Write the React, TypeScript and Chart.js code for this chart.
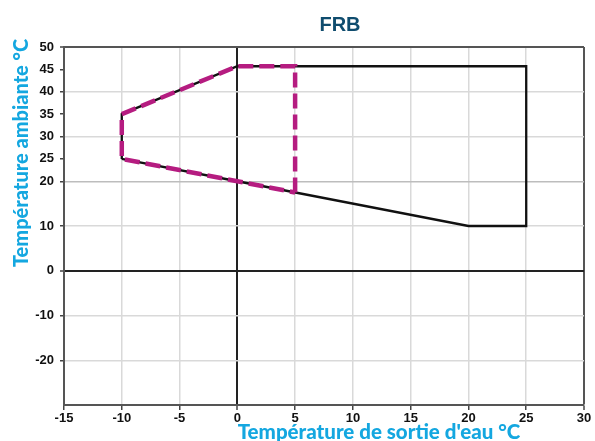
import React, { useEffect, useRef } from "react";
import { Chart, registerables } from "chart.js";

Chart.register(...registerables);

const chartTitle = "FRB";
const xAxisTitle = "Température de sortie d'eau °C";
const yAxisTitle = "Température ambiante °C";

const xMin = -15;
const xMax = 30;
const xStep = 5;
const yMin = -30;
const yMax = 50;
const yTickValues = [50, 45, 40, 35, 30, 25, 20, 10, 0, -10, -20];
const yNoGrid = [45, 35, 25];

// Outer operating envelope (solid black)
const envelopeX = [-10, -10, 0, 25, 25, 20, 0, -10];
const envelopeY = [25, 35, 45.7, 45.7, 10, 10, 20, 25];

// Inner limited area (dashed magenta)
const limitX = [5, 5, 0, -10, -10, 0, 5];
const limitY = [17.5, 45.7, 45.7, 35, 25, 20, 17.5];

const toPoints = (xs: number[], ys: number[]) => xs.map((x, i) => ({ x, y: ys[i] }));

const titlesPlugin = {
  id: "customTitles",
  afterDraw(chart: any) {
    const { ctx } = chart;
    ctx.save();
    // Main title
    ctx.fillStyle = "#0f4c6e";
    ctx.font = "bold 20px 'Liberation Sans', Arial, sans-serif";
    ctx.textAlign = "center";
    ctx.textBaseline = "middle";
    ctx.fillText(chartTitle, 340, 25);
    // X title
    ctx.fillStyle = "#14a7e0";
    ctx.font = "900 20.5px Lato, 'Open Sans', sans-serif";
    ctx.textBaseline = "alphabetic";
    ctx.fillText(xAxisTitle, 379, 439);
    // Y title
    ctx.translate(22, 153);
    ctx.rotate(-Math.PI / 2);
    ctx.textBaseline = "middle";
    ctx.font = "900 20px Lato, 'Open Sans', sans-serif";
    ctx.fillText(yAxisTitle, 0, 0);
    ctx.restore();
  },
};

export default function App() {
  const canvasRef = useRef<HTMLCanvasElement | null>(null);

  useEffect(() => {
    if (!canvasRef.current) return;
    const tickFont = { family: "'Liberation Sans', Arial, sans-serif", size: 13, weight: "bold" as const };
    const chart = new Chart(canvasRef.current, {
      type: "scatter",
      data: {
        datasets: [
          {
            label: "limit",
            data: toPoints(limitX, limitY),
            showLine: true,
            borderColor: "#b51c80",
            borderWidth: 4.5,
            borderDash: [15, 6],
            pointRadius: 0,
            fill: false,
            tension: 0,
          },
          {
            label: "envelope",
            data: toPoints(envelopeX, envelopeY),
            showLine: true,
            borderColor: "#111111",
            borderWidth: 2.3,
            pointRadius: 0,
            fill: false,
            tension: 0,
          },
        ],
      },
      options: {
        animation: false,
        responsive: false,
        maintainAspectRatio: false,
        layout: { padding: { top: 47, right: 11, left: 0, bottom: 0 } },
        plugins: {
          legend: { display: false },
          title: { display: false },
          tooltip: { enabled: false },
        },
        scales: {
          x: {
            type: "linear",
            min: xMin,
            max: xMax,
            afterFit: (s: any) => {
              s.height = 36;
            },
            ticks: {
              stepSize: xStep,
              autoSkip: false,
              maxRotation: 0,
              color: "#111",
              font: tickFont,
              padding: 1,
            },
            border: { display: true, color: "#555", width: 2 },
            grid: {
              drawTicks: true,
              tickLength: 5,
              tickColor: "#444",
              tickWidth: 1.5,
              color: (c: any) => {
                const v = c.tick ? c.tick.value : null;
                if (v === xMin) return "rgba(0,0,0,0)";
                if (v === 0) return "#222";
                if (v === xMax) return "#555";
                return "#d9d9d9";
              },
              lineWidth: (c: any) => {
                const v = c.tick ? c.tick.value : null;
                if (v === 0 || v === xMax) return 2;
                return 1.5;
              },
            },
          },
          y: {
            type: "linear",
            min: yMin,
            max: yMax,
            afterFit: (s: any) => {
              s.width = 64;
            },
            afterBuildTicks: (s: any) => {
              s.ticks = yTickValues.map((v) => ({ value: v }));
            },
            ticks: {
              autoSkip: false,
              color: "#111",
              font: tickFont,
              padding: 6,
              callback: (v: any) => String(v),
            },
            border: { display: true, color: "#555", width: 2 },
            grid: {
              drawTicks: true,
              tickLength: 4,
              tickColor: "#444",
              tickWidth: 1.5,
              color: (c: any) => {
                const v = c.tick ? c.tick.value : null;
                if (v === yMax) return "#555";
                if (v === 0) return "#222";
                if (v === 20) return "#bdbdbd";
                if (yNoGrid.includes(v)) return "rgba(0,0,0,0)";
                return "#d9d9d9";
              },
              lineWidth: (c: any) => {
                const v = c.tick ? c.tick.value : null;
                if (v === 0 || v === yMax) return 2;
                return 1.5;
              },
            },
          },
        },
      },
      plugins: [titlesPlugin],
    });
    return () => chart.destroy();
  }, []);

  return (
    <div style={{ position: "fixed", left: 0, top: 0, width: 595, height: 441, background: "#fff" }}>
      <canvas ref={canvasRef} width={595} height={441} style={{ width: 595, height: 441 }} />
    </div>
  );
}
